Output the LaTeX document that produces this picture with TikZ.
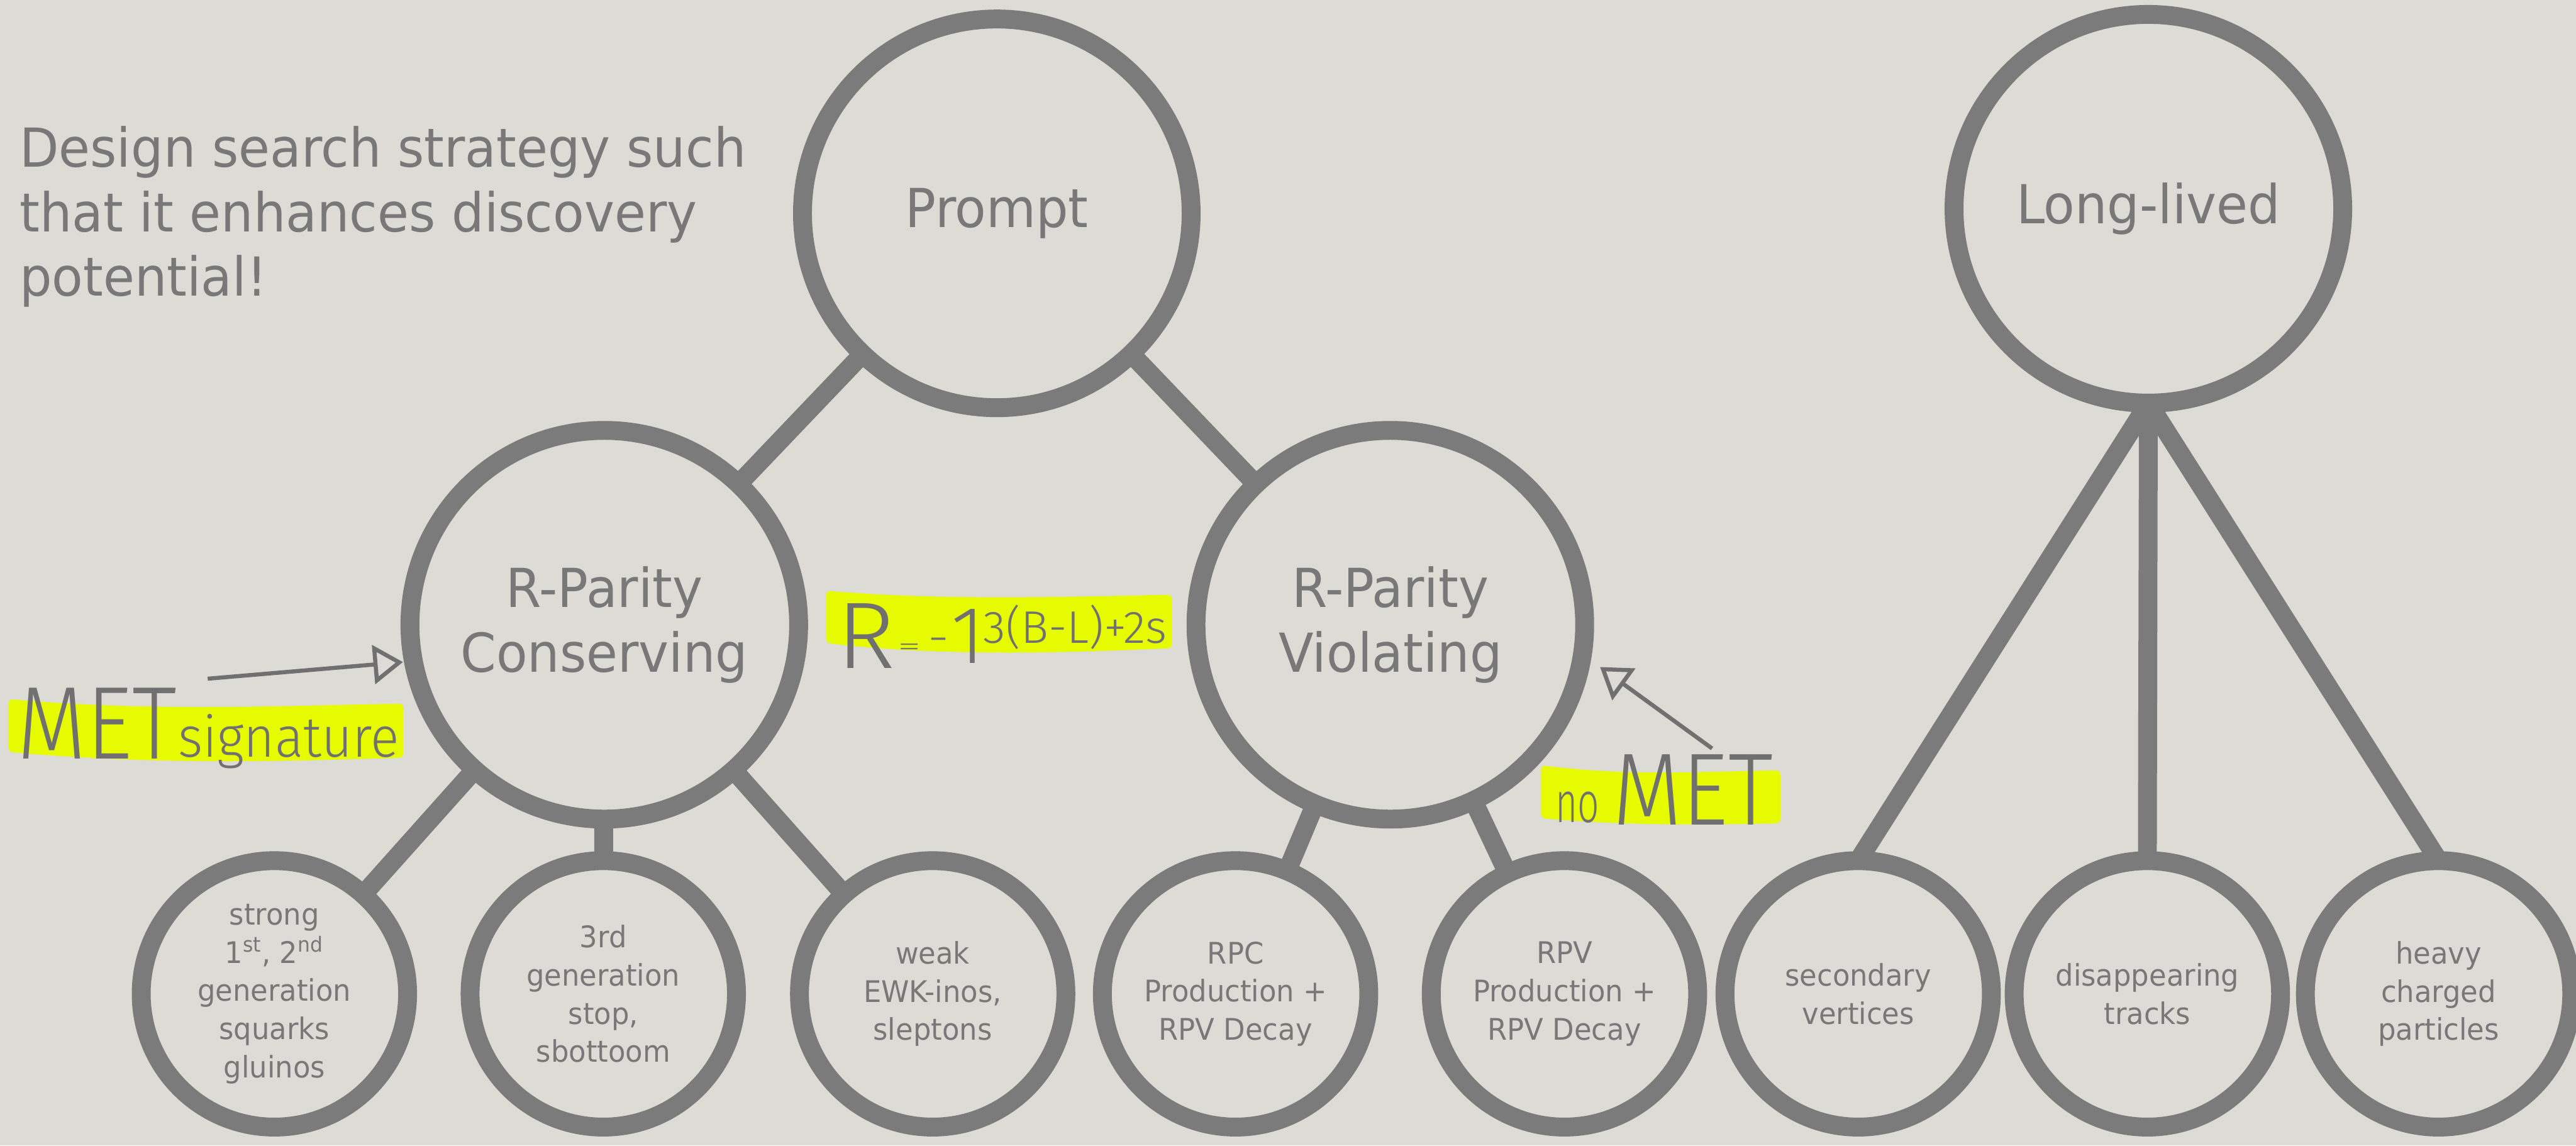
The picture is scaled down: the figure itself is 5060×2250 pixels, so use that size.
\documentclass[tikz,border=0pt]{standalone}
\usepackage{fontspec}
\setmainfont{DejaVu Sans}[FakeStretch=0.95]
\IfFontExistsTF{Fira Sans Light}
  {\newfontfamily\hand{Fira Sans Light}}
  {\newfontfamily\hand{DejaVu Sans}}
\usetikzlibrary{arrows.meta,calc}
\definecolor{paper}{RGB}{221,219,214}
\definecolor{ring}{RGB}{123,123,123}
\definecolor{ink}{RGB}{120,120,120}
\definecolor{pencil}{RGB}{112,112,112}
\definecolor{marker}{RGB}{230,250,0}
\pgfdeclarelayer{paperlayer}
\pgfdeclarelayer{links}
\pgfsetlayers{paperlayer,links,main}

\begin{document}
\begin{tikzpicture}[x=0.01cm,y=-0.01cm,
  bubble/.style={circle,draw=ring,line width=0.37cm,fill=paper,inner sep=0pt,
    outer sep=0pt,text=ink,align=center},
  bigbubble/.style={bubble,minimum size=7.63cm,font=\fontsize{30}{36.1}\selectfont},
  smallbubble/.style={bubble,minimum size=5.23cm,font=\fontsize{16.6}{21.3}\selectfont},
  branch/.style={draw=ring,line width=0.37cm},
  hilite/.style={fill=marker,rounded corners=0.08cm},
  scribble/.style={text=pencil,inner sep=0pt,outer sep=0pt,font=\hand},
  pointer/.style={draw=pencil,line width=0.08cm,
    -{Triangle[open,length=0.58cm,width=0.76cm]}}
]
% paper
\begin{pgfonlayer}{paperlayer}
  \fill[paper] (0,0) rectangle (5060,2250);
\end{pgfonlayer}
\useasboundingbox (0,0) rectangle (5060,2250);

% headline
\node[anchor=north west,inner sep=0pt,text=ink,align=left,
      font=\fontsize{30}{36.1}\selectfont] (motto) at (38,247)
  {Design search strategy such\\that it enhances discovery\\potential!};

% upper tier
\node[bigbubble] (prompt) at (1958,419) {Prompt};
\node[bigbubble] (rpc) at (1187,1227) {R-Parity\\Conserving};
\node[bigbubble] (rpv) at (2731,1227) {R-Parity\\Violating};
\node[bigbubble] (ll) at (4220,410) {Long-lived};

% lower tier
\node[smallbubble] (strong) at (539,1952)
  {strong\\1\textsuperscript{st}, 2\textsuperscript{nd}\\generation\\squarks\\gluinos};
\node[smallbubble] (third) at (1185,1952) {3rd\\generation\\stop,\\sbottoom};
\node[smallbubble] (weak) at (1832,1952) {weak\\EWK-inos,\\sleptons};
\node[smallbubble] (rpcprod) at (2427,1952) {RPC\\Production +\\RPV Decay};
\node[smallbubble] (rpvprod) at (3073,1952) {RPV\\Production +\\RPV Decay};
\node[smallbubble] (sv) at (3650,1952) {secondary\\vertices};
\node[smallbubble] (dt) at (4218,1952) {disappearing\\tracks};
\node[smallbubble] (hc) at (4790,1952) {heavy\\charged\\particles};

% connectors (behind the filled bubbles)
\begin{pgfonlayer}{links}
  \draw[branch] (prompt.center) -- (rpc.center);
  \draw[branch] (prompt.center) -- (rpv.center);
  \draw[branch] (rpc.center) -- (strong.center);
  \draw[branch] (rpc.center) -- (third.center);
  \draw[branch] (rpc.center) -- (weak.center);
  \draw[branch] (rpv.center) -- (rpcprod.center);
  \draw[branch] (rpv.center) -- (rpvprod.center);
  \draw[branch] (ll.south) -- (sv.north);
  \draw[branch] (ll.south) -- (dt.north);
  \draw[branch] (ll.south) -- (hc.north);
\end{pgfonlayer}

% marker strokes
\fill[hilite] (17,1373) .. controls (300,1398) and (550,1386) .. (792,1382)
  -- (792,1488) .. controls (550,1496) and (300,1502) .. (17,1477) -- cycle;
\fill[hilite] (1623,1160) .. controls (1850,1180) and (2100,1172) .. (2302,1168)
  -- (2302,1273) .. controls (2100,1282) and (1850,1290) .. (1623,1263) -- cycle;
\fill[hilite] (3027,1503) .. controls (3200,1525) and (3350,1515) .. (3497,1513)
  -- (3497,1617) .. controls (3350,1620) and (3200,1622) .. (3027,1607) -- cycle;

% handwritten notes
\node[scribble,anchor=base west] (metword) at (34,1490)
  {\resizebox{3.13cm}{1.39cm}{MET}};
\node[scribble,anchor=base west] (sigword) at (350,1487)
  {\resizebox{4.34cm}{0.84cm}{signature}};

\node[scribble,anchor=base west] (rsym) at (1644,1312)
  {\resizebox{1.15cm}{1.27cm}{R}};
\node[scribble] (eqsym) at (1787,1275) {\resizebox{0.46cm}{0.22cm}{=}};
\node[scribble] (minsym) at (1844,1268) {\resizebox{0.42cm}{0.3cm}{-}};
\node[scribble,anchor=base] (onesym) at (1901,1303)
  {\resizebox{!}{1.06cm}{1}};
\node[scribble,anchor=base west] (expo) at (1932,1263)
  {\resizebox{3.6cm}{0.75cm}{3(B-L)+2s}};

\node[scribble,anchor=base west] (noword) at (3055,1615)
  {\resizebox{0.86cm}{0.6cm}{no}};
\node[scribble,anchor=base west] (metword2) at (3168,1620)
  {\resizebox{3.14cm}{1.38cm}{MET}};

% pencil arrows
\coordinate (metTail) at (408,1333);
\coordinate (metTip) at ($(rpc.center)+(190.5:4.02cm)$);
\draw[pointer] (metTail) -- (metTip);
\coordinate (nometTail) at (3363,1470);
\coordinate (nometTip) at ($(rpv.center)+(-11.4:4.2cm)$);
\draw[pointer] (nometTail) -- (nometTip);
\end{tikzpicture}
\end{document}
